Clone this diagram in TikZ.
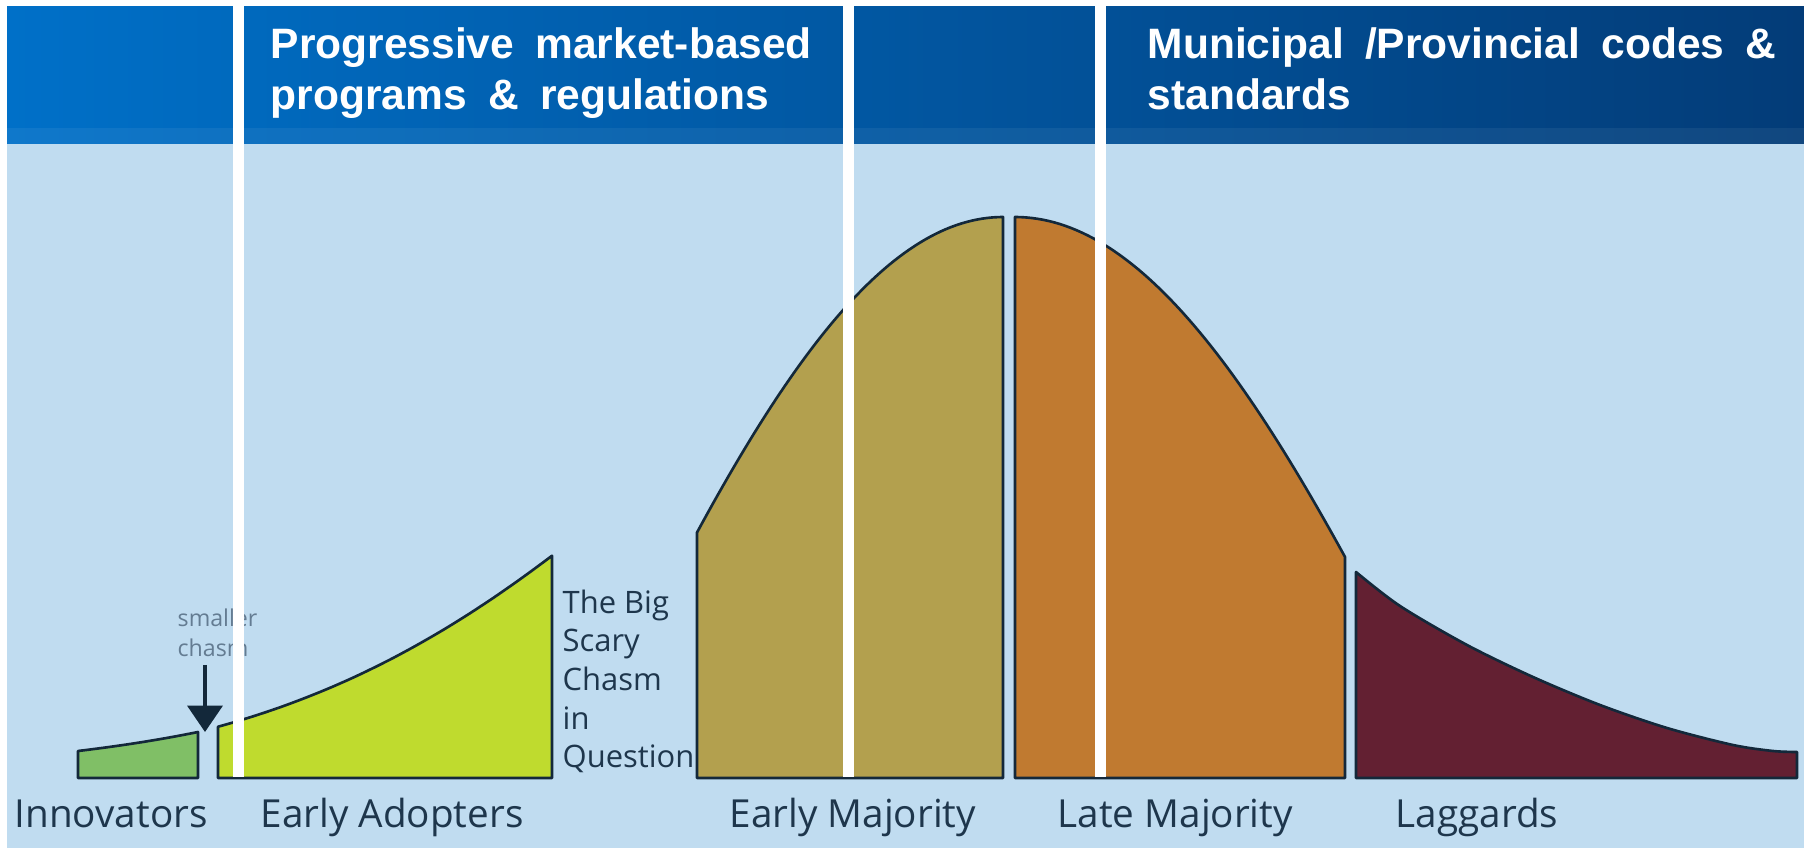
\documentclass[tikz,border=0pt]{standalone}
\usepackage{fontspec}
\setmainfont{Open Sans}
\newfontfamily\bannerfont{Liberation Sans}[WordSpace=1.8]
\usetikzlibrary{arrows.meta}

\definecolor{bannerleft}{HTML}{0070C8}
\definecolor{bannerright}{HTML}{033C78}
\definecolor{skyback}{HTML}{C0DCF0}
\definecolor{edgeline}{HTML}{13283A}
\definecolor{innov}{HTML}{80BF66}
\definecolor{adopt}{HTML}{BFDB2E}
\definecolor{earlymaj}{HTML}{B3A04E}
\definecolor{latemaj}{HTML}{C07A30}
\definecolor{lagg}{HTML}{632032}
\definecolor{labeltext}{HTML}{1E364C}
\definecolor{notetext}{HTML}{647C92}

\tikzset{
  segment/.style={draw=edgeline, line width=0.75pt, line join=round},
  group/.style={font=\fontsize{11}{13}\selectfont, text=labeltext, anchor=base west, inner sep=0pt},
  headline/.style={font=\bannerfont\bfseries\fontsize{12.1}{14.5}\selectfont, text=white,
    anchor=north west, inner sep=0pt, align=left},
  divider/.style={fill=white},
}

\begin{document}
\begin{tikzpicture}[x=0.1mm, y=-0.1mm]
  \useasboundingbox (0,0) rectangle (1804,848);
  % background and banner
  \fill[white] (0,0) rectangle (1804,848);
  \fill[skyback] (7,144) rectangle (1804,848);
  \shade[left color=bannerleft, right color=bannerright] (7,7) rectangle (1804,144);
  \fill[white, opacity=0.06] (7,128) rectangle (1804,144);

  % pieces of the bell curve, base line at 778
  \draw[segment, fill=innov] (78,778) -- plot[domain=78:198, samples=20] (\x, {778-27*exp(0.00444*(\x-78))}) -- (198,778) -- cycle;
  \draw[segment, fill=adopt] (218,778) -- plot[domain=218:552, samples=50] (\x, {778-600*exp(0-(((\x-1134)/100)^2)/34.11)}) -- (552,778) -- cycle;
  \draw[segment, fill=earlymaj] (697,778) -- plot[domain=697:1003, samples=60] (\x, {778-561*cos(0.2093*(1003-\x))}) -- (1003,778) -- cycle;
  \draw[segment, fill=latemaj] (1015,778) -- plot[domain=1015:1345, samples=60] (\x, {778-561*cos(0.2024*(\x-1015))}) -- (1345,778) -- cycle;
  \draw[segment, fill=lagg] (1356,778) -- plot[smooth] coordinates {(1356,572) (1400,606) (1467,645) (1533,677) (1600,705) (1667,728) (1733,745) (1773,751) (1797,752)} -- (1797,778) -- cycle;

  % chasm notes
  \node[font=\fontsize{6.6}{8.5}\selectfont, text=notetext, align=left, anchor=north west, inner sep=0pt]
    (smallchasm) at (177,608) {smaller\\chasm};
  \coordinate (chasmtop) at (205,665);
  \coordinate (chasmgap) at (205,732);
  \draw[edgeline, line width=0.9pt, -{Triangle[width=10pt,length=7.5pt]}] (chasmtop) -- (chasmgap);
  \node[font=\fontsize{8.8}{11}\selectfont, text=labeltext, align=left, anchor=north west, inner sep=0pt]
    (bigchasm) at (562,589) {The Big\\Scary\\Chasm\\in\\Question};

  % group names
  \node[group] (innovators) at (14,827) {Innovators};
  \node[group] (adopters) at (260,827) {Early Adopters};
  \node[group] (earlymajority) at (729,827) {Early Majority};
  \node[group] (latemajority) at (1057,827) {Late Majority};
  \node[group] (laggards) at (1395,827) {Laggards};

  % white dividers
  \fill[divider] (233,0) rectangle (244,777);
  \fill[divider] (843,0) rectangle (854,777);
  \fill[divider] (1095,0) rectangle (1106,777);

  \node[headline] (programs) at (270,27) {Progressive market-based\\programs \& regulations};
  \node[headline] (codes) at (1147,27) {Municipal /Provincial codes \&\\standards};
\end{tikzpicture}
\end{document}
